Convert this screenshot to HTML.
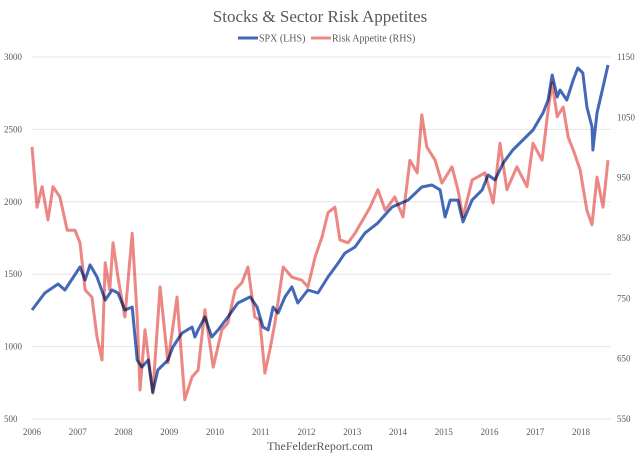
<!DOCTYPE html>
<html><head><meta charset="utf-8"><style>
body{margin:0;background:#fff;}
svg{display:block;font-family:"Liberation Serif",serif;}
</style></head><body>
<svg width="640" height="459" viewBox="0 0 640 459">
<text x="320" y="22" text-anchor="middle" font-size="17" fill="#595959">Stocks &amp; Sector Risk Appetites</text>
<g>
<g><line x1="238" y1="38" x2="258" y2="38" stroke="#4468b8" stroke-width="3"/><text x="259" y="41.5" font-size="10" fill="#595959">SPX (LHS)</text></g>
<g><line x1="311" y1="38" x2="331" y2="38" stroke="#ee8a86" stroke-width="3"/><text x="332" y="41.5" font-size="10" fill="#595959">Risk Appetite (RHS)</text></g>
</g>
<g id="grid"></g>
<g id="yl"></g>
<g id="yr"></g>
<g id="xa"></g>
<g id="series"></g>
<text x="320" y="450" text-anchor="middle" font-size="12" fill="#595959">TheFelderReport.com</text>
</svg>
<script>
const leftTicks=[500,1000,1500,2000,2500,3000];
const rightTicks=[550,650,750,850,950,1050,1150];
const yearLabels=[2006,2007,2008,2009,2010,2011,2012,2013,2014,2015,2016,2017,2018];
const spxDates=[2006.00,2006.28,2006.57,2006.72,2007.05,2007.16,2007.27,2007.42,2007.60,2007.75,2007.88,2008.03,2008.19,2008.30,2008.40,2008.54,2008.64,2008.75,2008.97,2009.08,2009.28,2009.50,2009.56,2009.63,2009.78,2009.93,2010.07,2010.28,2010.50,2010.77,2010.92,2011.05,2011.16,2011.27,2011.38,2011.53,2011.68,2011.81,2012.03,2012.25,2012.47,2012.69,2012.84,2013.06,2013.28,2013.56,2013.87,2014.22,2014.52,2014.74,2014.92,2015.03,2015.14,2015.31,2015.42,2015.62,2015.84,2015.97,2016.12,2016.30,2016.51,2016.73,2016.95,2017.17,2017.28,2017.37,2017.48,2017.54,2017.69,2017.83,2017.93,2018.04,2018.13,2018.24,2018.26,2018.35,2018.48,2018.59];
const spxValues=[1253,1370,1432,1391,1550,1460,1564,1481,1322,1391,1370,1253,1273,907,859,907,686,838,907,997,1094,1135,1066,1115,1204,1066,1115,1204,1301,1343,1273,1135,1115,1273,1232,1343,1412,1301,1391,1370,1481,1577,1646,1688,1785,1854,1964,2012,2102,2116,2082,1895,2012,2012,1861,2012,2082,2185,2151,2268,2358,2427,2496,2613,2703,2876,2724,2772,2703,2841,2924,2890,2655,2517,2358,2613,2793,2945];
const raDates=[2006.00,2006.11,2006.22,2006.35,2006.46,2006.61,2006.77,2006.94,2007.05,2007.16,2007.31,2007.42,2007.53,2007.60,2007.70,2007.77,2007.88,2008.03,2008.19,2008.30,2008.36,2008.47,2008.64,2008.80,2008.97,2009.17,2009.34,2009.50,2009.63,2009.78,2009.96,2010.15,2010.28,2010.44,2010.59,2010.72,2010.87,2010.98,2011.09,2011.20,2011.31,2011.49,2011.68,2011.90,2012.03,2012.19,2012.34,2012.47,2012.62,2012.73,2012.91,2013.06,2013.23,2013.39,2013.56,2013.72,2013.93,2014.11,2014.26,2014.42,2014.52,2014.63,2014.81,2014.96,2015.18,2015.31,2015.42,2015.62,2015.90,2016.08,2016.23,2016.38,2016.60,2016.82,2016.95,2017.15,2017.28,2017.37,2017.48,2017.61,2017.72,2017.83,2017.98,2018.13,2018.24,2018.35,2018.48,2018.59];
const raValues=[1001,901,935,880,935,918,863,863,842,764,752,686,648,809,764,842,785,719,858,719,598,698,593,769,643,752,582,620,631,731,636,698,709,764,776,802,719,714,626,665,709,802,785,780,769,819,852,892,901,847,842,858,880,901,930,896,918,885,979,958,1054,1001,979,941,968,930,885,946,958,908,1007,930,968,935,1007,979,1062,1107,1051,1067,1017,996,963,896,872,951,901,979];
const X0=32,XW=45.75;
function xs(t){return X0+(t-2006)*XW;}
function yL(v){return 57+(3000-v)*(362/2500);}
function yR(v){return 57+(1150-v)*(362/600);}
const NS='http://www.w3.org/2000/svg';
function mk(tag,attrs,parent){const e=document.createElementNS(NS,tag);for(const k in attrs)e.setAttribute(k,attrs[k]);parent.appendChild(e);return e;}
const grid=document.getElementById('grid'),yl=document.getElementById('yl'),yr=document.getElementById('yr'),xa=document.getElementById('xa'),ser=document.getElementById('series');
leftTicks.forEach(v=>{
 const l=mk('line',{x1:X0,x2:611,y1:yL(v),y2:yL(v),stroke:'#e6e6e6','stroke-width':1},grid);
 
 
 const t=mk('text',{x:4,y:yL(v)+3,'font-size':9,fill:'#595959'},yl);t.textContent=v;
 
 
});
rightTicks.forEach(v=>{
 const t=mk('text',{x:617,y:yR(v)+3,'font-size':9,fill:'#595959'},yr);t.textContent=v;
 
 
});
yearLabels.forEach(y=>{
 const t=mk('text',{x:xs(y),y:435,'font-size':9,fill:'#595959','text-anchor':'middle'},xa);t.textContent=y;
 
 
});
function path(dates,vals,yf){return dates.map((d,i)=>(i?'L':'M')+xs(d).toFixed(1)+','+yf(vals[i]).toFixed(1)).join('');}
const pb=mk('path',{d:path(spxDates,spxValues,yL),fill:'none',stroke:'#4468b8','stroke-width':3,'stroke-linejoin':'round'},ser);


const pr=mk('path',{d:path(raDates,raValues,yR),fill:'none',stroke:'#ea7a76','stroke-width':3,'stroke-linejoin':'round',style:'mix-blend-mode:multiply','stroke-opacity':0.9},ser);


</script>
</body></html>
